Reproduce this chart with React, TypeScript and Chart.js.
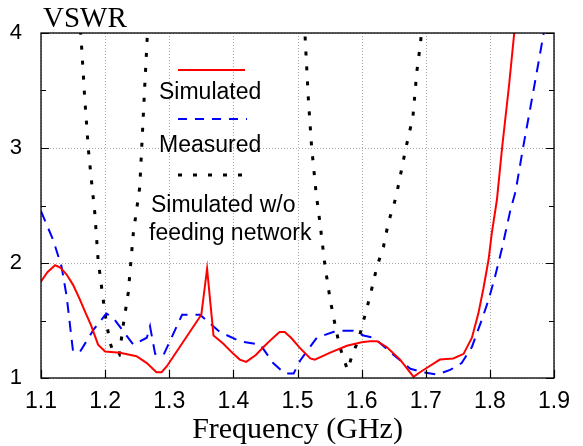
import React, { useEffect, useRef } from "react";
import { Chart, registerables } from "chart.js";

Chart.register(...registerables);

// ---- Data ----
const simulatedFreq = [
  1.1, 1.11, 1.122, 1.13, 1.14, 1.15, 1.16, 1.17, 1.178, 1.189, 1.2, 1.223, 1.24, 1.249, 1.265,
  1.28, 1.288, 1.296, 1.32, 1.35, 1.359, 1.369, 1.384, 1.4, 1.41, 1.42, 1.435, 1.447, 1.46,
  1.472, 1.48, 1.49, 1.504, 1.52, 1.527, 1.551, 1.577, 1.6, 1.613, 1.624, 1.639, 1.66, 1.681,
  1.691, 1.705, 1.722, 1.743, 1.759, 1.772, 1.782, 1.79, 1.798, 1.803, 1.811, 1.819, 1.83,
  1.838, 1.845,
];
const simulatedVswr = [
  1.84, 1.92, 1.98, 1.96, 1.9, 1.81, 1.69, 1.56, 1.46, 1.29, 1.23, 1.22, 1.2, 1.19, 1.13,
  1.05, 1.05, 1.1, 1.3, 1.55, 1.95, 1.37, 1.3, 1.21, 1.16, 1.14, 1.2, 1.27, 1.34,
  1.4, 1.4, 1.35, 1.26, 1.17, 1.16, 1.22, 1.28, 1.31, 1.32, 1.32, 1.27, 1.16, 1.01,
  1.05, 1.1, 1.16, 1.17, 1.21, 1.35, 1.56, 1.78, 2.03, 2.26, 2.55, 3.0, 3.55,
  4.0, 4.35,
];

const measuredFreq = [
  1.1, 1.119, 1.132, 1.14, 1.15, 1.161, 1.182, 1.202, 1.213, 1.244, 1.265, 1.27, 1.278, 1.291,
  1.32, 1.348, 1.379, 1.41, 1.442, 1.462, 1.48, 1.494, 1.504, 1.53, 1.561, 1.587, 1.603, 1.619,
  1.65, 1.676, 1.696, 1.717, 1.738, 1.756, 1.772, 1.787, 1.798, 1.808, 1.819, 1.832, 1.84,
  1.852, 1.868, 1.884, 1.895,
];
const measuredVswr = [
  2.45, 2.2, 1.97, 1.71, 1.23, 1.23, 1.42, 1.56, 1.52, 1.29, 1.35, 1.45, 1.21, 1.2,
  1.55, 1.55, 1.4, 1.32, 1.29, 1.13, 1.04, 1.04, 1.15, 1.35, 1.41, 1.41, 1.37, 1.35,
  1.2, 1.08, 1.05, 1.03, 1.07, 1.13, 1.27, 1.5, 1.68, 1.88, 2.13, 2.46, 2.62,
  3.01, 3.5, 4.0, 4.35,
];

const noFeedFreq = [
  1.16, 1.163, 1.168, 1.174, 1.179, 1.184, 1.189, 1.197, 1.202, 1.208, 1.213, 1.222, 1.228,
  1.236, 1.244, 1.254, 1.262, 1.266, 1.268,
  1.4,
  1.511, 1.512, 1.517, 1.522, 1.529, 1.535, 1.543, 1.551, 1.559, 1.566, 1.578, 1.586, 1.595,
  1.603, 1.613, 1.624, 1.634, 1.642, 1.65, 1.655, 1.669, 1.68, 1.686, 1.692, 1.695,
];
const noFeedVswr = [
  4.15, 3.91, 3.45, 2.98, 2.7, 2.43, 2.03, 1.68, 1.48, 1.3, 1.22, 1.2, 1.45,
  1.74, 2.26, 2.66, 3.56, 4.0, 4.15,
  null,
  4.1, 3.95, 3.42, 3.01, 2.61, 2.35, 1.97, 1.68, 1.45, 1.27, 1.07, 1.21, 1.33,
  1.5, 1.71, 1.97, 2.14, 2.36, 2.5, 2.61, 3.0, 3.27, 3.66, 3.92, 4.15,
];

const xTickValues = [1.1, 1.2, 1.3, 1.4, 1.5, 1.6, 1.7, 1.8, 1.9];
const yTickValues = [1, 2, 3, 4];
const yMinorTickValues = [1.5, 2.5, 3.5];

const legendSimulated = "Simulated";
const legendMeasured = "Measured";
const legendNoFeed1 = "Simulated w/o";
const legendNoFeed2 = "feeding network";
const xTitle = "Frequency (GHz)";
const yTitle = "VSWR";

const toPoints = (xs: number[], ys: (number | null)[]) =>
  xs.map((x, i) => ({ x, y: ys[i] }));

const decorPlugin = {
  id: "decor",
  beforeDatasetsDraw(chart: any) {
    const { ctx, chartArea: a, scales } = chart;
    const xs = scales.x;
    const ys = scales.y;
    ctx.save();
    ctx.strokeStyle = "#a8a8a8";
    ctx.lineWidth = 1;
    ctx.setLineDash([1, 2]);
    xTickValues.forEach((v) => {
      const px = Math.round(xs.getPixelForValue(v)) + 0.5;
      ctx.beginPath();
      ctx.moveTo(px, a.top);
      ctx.lineTo(px, a.bottom);
      ctx.stroke();
    });
    yTickValues.forEach((v) => {
      const py = Math.round(ys.getPixelForValue(v)) + 0.5;
      ctx.beginPath();
      ctx.moveTo(a.left, py);
      ctx.lineTo(a.right, py);
      ctx.stroke();
    });
    ctx.restore();
  },
  afterDatasetsDraw(chart: any) {
    const { ctx, chartArea: a, scales } = chart;
    const xs = scales.x;
    const ys = scales.y;
    ctx.save();
    ctx.setLineDash([]);
    ctx.strokeStyle = "#000";
    ctx.lineWidth = 1.3;
    ctx.strokeRect(a.left, a.top, a.right - a.left, a.bottom - a.top);
    ctx.lineWidth = 1.2;
    // x ticks (bottom, inward)
    xTickValues.forEach((v) => {
      const px = Math.round(xs.getPixelForValue(v)) + 0.5;
      ctx.beginPath();
      ctx.moveTo(px, a.bottom);
      ctx.lineTo(px, a.bottom - 8);
      ctx.stroke();
    });
    // y ticks (left and right, inward)
    yTickValues.forEach((v) => {
      const py = Math.round(ys.getPixelForValue(v)) + 0.5;
      ctx.beginPath();
      ctx.moveTo(a.left, py);
      ctx.lineTo(a.left + 8, py);
      ctx.moveTo(a.right, py);
      ctx.lineTo(a.right - 8, py);
      ctx.stroke();
    });
    yMinorTickValues.forEach((v) => {
      const py = Math.round(ys.getPixelForValue(v)) + 0.5;
      ctx.beginPath();
      ctx.moveTo(a.left, py);
      ctx.lineTo(a.left + 5, py);
      ctx.moveTo(a.right, py);
      ctx.lineTo(a.right - 5, py);
      ctx.stroke();
    });

    // Legend
    const lx0 = 178;
    const lx1 = 245;
    ctx.lineWidth = 2;
    ctx.strokeStyle = "#ff0000";
    ctx.beginPath();
    ctx.moveTo(lx0, 70);
    ctx.lineTo(lx1, 70);
    ctx.stroke();
    ctx.strokeStyle = "#0000ff";
    ctx.setLineDash([9, 8]);
    ctx.beginPath();
    ctx.moveTo(lx0, 119);
    ctx.lineTo(lx1 + 2, 119);
    ctx.stroke();
    ctx.strokeStyle = "#000";
    ctx.lineWidth = 3;
    ctx.setLineDash([4, 11]);
    ctx.beginPath();
    ctx.moveTo(lx0, 175);
    ctx.lineTo(lx1 + 2, 175);
    ctx.stroke();
    ctx.setLineDash([]);

    ctx.fillStyle = "#000";
    ctx.textAlign = "left";
    ctx.textBaseline = "alphabetic";
    ctx.font = "23px 'Liberation Sans', Arial, sans-serif";
    ctx.fillText(legendSimulated, 159, 99);
    ctx.fillText(legendMeasured, 159, 152);
    ctx.fillText(legendNoFeed1, 151, 212);
    ctx.fillText(legendNoFeed2, 149, 240);

    // Titles
    ctx.font = "30px 'Liberation Serif', 'Times New Roman', serif";
    ctx.textAlign = "center";
    ctx.fillText(xTitle, (a.left + a.right) / 2, 438);
    ctx.textAlign = "left";
    ctx.font = "29px 'Liberation Serif', 'Times New Roman', serif";
    ctx.fillText(yTitle, 43, 27);
    ctx.restore();
  },
};

export default function App() {
  const canvasRef = useRef<HTMLCanvasElement | null>(null);

  useEffect(() => {
    const canvas = canvasRef.current;
    if (!canvas) return;
    const chart = new Chart(canvas, {
      type: "line",
      data: {
        datasets: [
          {
            label: legendSimulated,
            data: toPoints(simulatedFreq, simulatedVswr),
            borderColor: "#ff0000",
            borderWidth: 2,
            pointRadius: 0,
            fill: false,
            tension: 0,
            clip: 0,
          },
          {
            label: legendMeasured,
            data: toPoints(measuredFreq, measuredVswr),
            borderColor: "#0000ff",
            borderWidth: 2,
            borderDash: [11, 8],
            pointRadius: 0,
            fill: false,
            tension: 0,
            clip: 0,
          },
          {
            label: legendNoFeed1 + " " + legendNoFeed2,
            data: toPoints(noFeedFreq, noFeedVswr),
            borderColor: "#000000",
            borderWidth: 3,
            borderDash: [4, 11],
            pointRadius: 0,
            fill: false,
            tension: 0,
            spanGaps: false,
            clip: 0,
          },
        ] as any,
      },
      options: {
        responsive: false,
        animation: false,
        devicePixelRatio: 1,
        events: [],
        layout: { padding: { top: 33, right: 29, left: 0, bottom: 0 } },
        plugins: {
          legend: { display: false },
          tooltip: { enabled: false },
        },
        scales: {
          x: {
            type: "linear",
            min: 1.1,
            max: 1.9,
            afterBuildTicks: (s: any) => {
              s.ticks = xTickValues.map((v) => ({ value: v }));
            },
            afterFit: (s: any) => {
              s.height = 68;
            },
            grid: { display: false },
            border: { display: false },
            ticks: {
              autoSkip: false,
              maxRotation: 0,
              padding: 2,
              color: "#000",
              font: { family: "'Liberation Sans', Arial, sans-serif", size: 23 },
              callback: (v: any) => Number(v).toFixed(1),
            },
          },
          y: {
            type: "linear",
            min: 1,
            max: 4,
            afterBuildTicks: (s: any) => {
              s.ticks = yTickValues.map((v) => ({ value: v }));
            },
            afterFit: (s: any) => {
              s.width = 41;
            },
            grid: { display: false },
            border: { display: false },
            ticks: {
              autoSkip: false,
              padding: 11,
              color: "#000",
              font: { family: "'Liberation Sans', Arial, sans-serif", size: 22 },
              callback: (v: any) => String(v),
            },
          },
        },
      } as any,
      plugins: [decorPlugin],
    });
    return () => chart.destroy();
  }, []);

  return (
    <div style={{ position: "absolute", left: 0, top: 0, width: 583, height: 446, background: "#fff" }}>
      <canvas ref={canvasRef} width={583} height={446} style={{ display: "block" }} />
    </div>
  );
}
